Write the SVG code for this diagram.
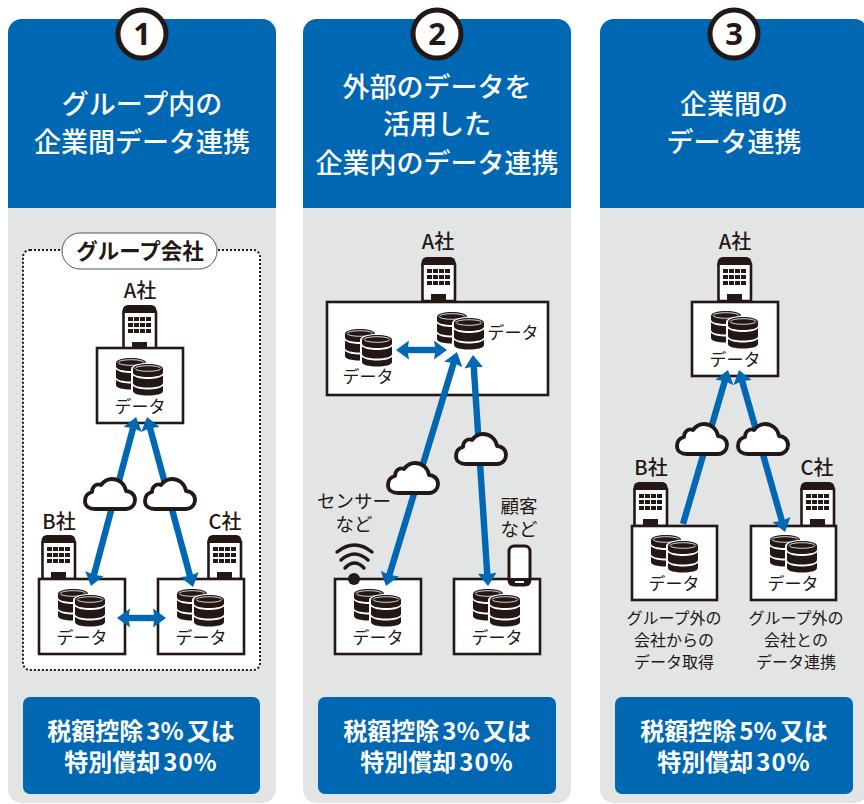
<svg xmlns="http://www.w3.org/2000/svg" xmlns:xlink="http://www.w3.org/1999/xlink" width="864" height="804" viewBox="0 0 864 804">
<style>
text{font-family:"Noto Sans CJK JP","Noto Sans",sans-serif;text-anchor:middle;fill:#231815}
.panel{fill:#e3e5e5}
.head{fill:#0068b3}
.title{font-size:27px;font-weight:500;fill:#fff}
.num{fill:#fff;stroke:#231815;stroke-width:5}
.numt{font-size:31px;font-weight:700;font-family:"Noto Sans","Noto Sans CJK JP",sans-serif}
.tax{fill:#0068b3}
.taxt{font-size:24px;font-weight:700;fill:#fff}
.sp{letter-spacing:1px}
.box{fill:#fff;stroke:#231815;stroke-width:2.6}
.co{font-size:20px;font-weight:500}
.d{font-size:17px}
.cap{font-size:16px}
.lab{font-size:18.5px}
.link{fill:none;stroke:#0068b3;stroke-width:6.4}
.cloud{fill:#fff;stroke:#231815;stroke-width:3.8;stroke-linejoin:round}
.wifi{fill:none;stroke:#231815;stroke-width:3.4;stroke-linecap:round}
</style>
<defs>
<marker id="ah" markerUnits="userSpaceOnUse" markerWidth="20" markerHeight="20" refX="2" refY="9.500" orient="auto-start-reverse" viewBox="0 0 20 19"><path d="M0 0L13 9.500L0 19L1.500 9.500Z" fill="#0068b3"/></marker>
<g id="bld">
<path d="M1.500 44V7L6 1.500H29.500L34 7V44Z" fill="#fff" stroke="#231815" stroke-width="2.600"/>
<path d="M0.500 8V6Q0.500 0 6.500 0H28.500Q34.500 0 34.500 6V8Z" fill="#231815"/>
<path d="M6 12h5v4h-5zM12 12h5v4h-5zM18 12h5v4h-5zM24 12h5v4h-5zM6 18h5v4h-5zM12 18h5v4h-5zM18 18h5v4h-5zM24 18h5v4h-5zM6 24h5v4h-5zM12 24h5v4h-5zM18 24h5v4h-5zM24 24h5v4h-5zM10 37h15v7h-15z" fill="#231815"/>
</g>
<g id="cyl">
<path d="M0 5C0 1.500 7 0 15 0S30 1.500 30 5V8.500C30 11.500 23 13 15 13S0 11.500 0 8.500Z" fill="#231815"/>
<path d="M0 11.500C3 14 9 15 15 15S27 14 30 11.500V19C30 22 23 23.500 15 23.500S0 22 0 19Z" fill="#231815"/>
<path d="M0 22C3 24.500 9 25.500 15 25.500S27 24.500 30 22V27C30 30 23 31.500 15 31.500S0 30 0 27Z" fill="#231815"/>
<ellipse cx="15" cy="4.500" rx="13" ry="2.800" fill="none" stroke="#fff" stroke-width=".8"/>
</g>
<g id="db">
<use href="#cyl" x="0" y="0"/>
<path d="M15 11C15 7 24 5 32 5S49 7 49 11V34C49 38 40 39 32 39S15 38 15 34Z" fill="#fff"/>
<use href="#cyl" x="17" y="6"/>
</g>
<path id="cl" d="M12 33H43C49 33 52 28 52 24C52 18 47 15 43 15C42 8 36 3 29 3C24 3 21 5 18 9C13 7 9 11 9 16C5 17 2 20 2 25C2 30 6 33 12 33Z"/>
</defs>

<g id="panel-1">
<rect class="panel" x="8" y="19" width="268" height="784" rx="14"/>
<path class="head" d="M8 208V33A14 14 0 0 1 22 19H262A14 14 0 0 1 276 33V208Z"/>
<text class="title" x="142" y="114">グループ内の</text>
<text class="title" x="142" y="152">企業間データ連携</text>
<circle class="num" cx="142" cy="34" r="24"/>
<text class="numt" x="142" y="45">1</text>
<rect x="23" y="250" width="237" height="420" rx="7" fill="#fff" stroke="#231815" stroke-width="2" stroke-dasharray="2 2"/>
<rect x="62" y="233" width="155" height="36" rx="18" fill="#fff" stroke="#555" stroke-width="1"/>
<text x="140" y="259" font-size="21.500" font-weight="700">グループ会社</text>
<rect class="tax" x="23" y="697" width="237" height="97" rx="7"/>
<text class="taxt" x="141" y="740">税額控除<tspan dx="3">3%</tspan><tspan dx="3">又は</tspan></text>
<text class="taxt" x="141" y="771">特別償却<tspan class="sp" dx="3">30%</tspan></text>
</g>
<g id="panel-2">
<rect class="panel" x="303" y="19" width="268" height="784" rx="14"/>
<path class="head" d="M303 208V33A14 14 0 0 1 317 19H557A14 14 0 0 1 571 33V208Z"/>
<text class="title" x="437" y="97">外部のデータを</text>
<text class="title" x="437" y="134">活用した</text>
<text class="title" x="437" y="173">企業内のデータ連携</text>
<circle class="num" cx="437" cy="34" r="24"/>
<text class="numt" x="437" y="45">2</text>
<rect class="tax" x="318" y="697" width="238" height="97" rx="7"/>
<text class="taxt" x="437" y="740">税額控除<tspan dx="3">3%</tspan><tspan dx="3">又は</tspan></text>
<text class="taxt" x="437" y="771">特別償却<tspan class="sp" dx="3">30%</tspan></text>
</g>
<g id="panel-3">
<rect class="panel" x="600" y="19" width="268" height="784" rx="14"/>
<path class="head" d="M600 208V33A14 14 0 0 1 614 19H854A14 14 0 0 1 868 33V208Z"/>
<text class="title" x="734" y="114">企業間の</text>
<text class="title" x="734" y="152">データ連携</text>
<circle class="num" cx="734" cy="34" r="24"/>
<text class="numt" x="734" y="45">3</text>
<rect class="tax" x="615" y="697" width="238" height="97" rx="7"/>
<text class="taxt" x="734" y="740">税額控除<tspan dx="3">5%</tspan><tspan dx="3">又は</tspan></text>
<text class="taxt" x="734" y="771">特別償却<tspan class="sp" dx="3">30%</tspan></text>
</g>

<g id="p1-a"><text class="co" x="140" y="298">A社</text><use href="#bld" x="122" y="305"/><rect class="box" x="97" y="348" width="86" height="75"/><use href="#db" x="116" y="358"/><text class="d" x="140" y="413">データ</text></g>
<g id="p1-b"><text class="co" x="59" y="529">B社</text><use href="#bld" x="41" y="535"/><rect class="box" x="39" y="579" width="86" height="75"/><use href="#db" x="58" y="589"/><text class="d" x="82" y="644">データ</text></g>
<g id="p1-c"><text class="co" x="225" y="529">C社</text><use href="#bld" x="207" y="535"/><rect class="box" x="158" y="579" width="86" height="75"/><use href="#db" x="177" y="589"/><text class="d" x="201" y="644">データ</text></g>

<g id="p2-a"><text class="co" x="438" y="249">A社</text><use href="#bld" x="421" y="257"/><rect class="box" x="327" y="302" width="221" height="93"/><use href="#db" x="345" y="329"/><text class="d" x="368" y="383">データ</text><use href="#db" x="437" y="312"/><text class="d" x="513" y="339">データ</text></g>
<g id="p2-sensor"><rect class="box" x="335" y="579" width="86" height="75"/><use href="#db" x="354" y="589"/><text class="d" x="378" y="644">データ</text><text class="lab"><tspan x="354" y="508">センサー</tspan><tspan x="354" y="531">など</tspan></text><path class="wifi" d="M337 552Q354.500 538 372 552M341 560Q354.500 548 368 560M345 568Q354.500 558 364 568"/><circle cx="354" cy="579" r="6" fill="#231815"/></g>
<g id="p2-customer"><rect class="box" x="454" y="579" width="86" height="75"/><use href="#db" x="473" y="589"/><text class="d" x="497" y="644">データ</text><text class="lab"><tspan x="519" y="513">顧客</tspan><tspan x="519" y="536">など</tspan></text><rect x="509" y="546" width="21" height="39" rx="5" fill="#fff" stroke="#231815" stroke-width="3"/><path d="M508 578H531V581Q531 586 526 586H513Q508 586 508 581Z" fill="#231815"/><rect x="515" y="581" width="9" height="2" fill="#fff"/></g>

<g id="p3-a"><text class="co" x="735" y="249">A社</text><use href="#bld" x="717" y="257"/><rect class="box" x="692" y="302" width="86" height="74"/><use href="#db" x="711" y="311"/><text class="d" x="735" y="366">データ</text></g>
<g id="p3-b"><text class="co" x="651" y="475">B社</text><use href="#bld" x="633" y="482"/><rect class="box" x="632" y="526" width="85" height="74"/><use href="#db" x="651" y="535"/><text class="d" x="674" y="590">データ</text><text class="cap" x="674" y="624">グループ外の</text><text class="cap" x="674" y="646">会社からの</text><text class="cap" x="674" y="668">データ取得</text></g>
<g id="p3-c"><text class="co" x="817" y="475">C社</text><use href="#bld" x="800" y="482"/><rect class="box" x="751" y="526" width="85" height="74"/><use href="#db" x="770" y="535"/><text class="d" x="793" y="590">データ</text><text class="cap" x="796" y="624">グループ外の</text><text class="cap" x="796" y="646">会社との</text><text class="cap" x="796" y="668">データ連携</text></g>

<g id="connectors">
<path class="link" marker-start="url(#ah)" marker-end="url(#ah)" d="M133.200 427.600L93.800 575.400"/>
<path class="link" marker-start="url(#ah)" marker-end="url(#ah)" d="M149.900 427.600L190.100 576.400"/>
<path class="link" marker-start="url(#ah)" marker-end="url(#ah)" d="M128 618H155"/>
<path class="link" marker-start="url(#ah)" marker-end="url(#ah)" d="M407 350H436"/>
<path class="link" marker-start="url(#ah)" marker-end="url(#ah)" d="M453.800 362.500L389.200 575.500"/>
<path class="link" marker-start="url(#ah)" marker-end="url(#ah)" d="M473.700 366L487.300 575"/>
<path class="link" marker-start="url(#ah)" d="M724.900 380.600L683 524"/>
<path class="link" marker-start="url(#ah)" marker-end="url(#ah)" d="M742 380.600L782 521.400"/>
</g>

<g id="cloud-1"><use class="cloud" href="#cl" x="83" y="476"/></g>
<g id="cloud-2"><use class="cloud" href="#cl" x="143" y="476"/></g>
<g id="cloud-3"><use class="cloud" href="#cl" x="386" y="460"/></g>
<g id="cloud-4"><use class="cloud" href="#cl" x="454" y="431"/></g>
<g id="cloud-5"><use class="cloud" href="#cl" x="675" y="421"/></g>
<g id="cloud-6"><use class="cloud" href="#cl" x="736" y="421"/></g>
</svg>
